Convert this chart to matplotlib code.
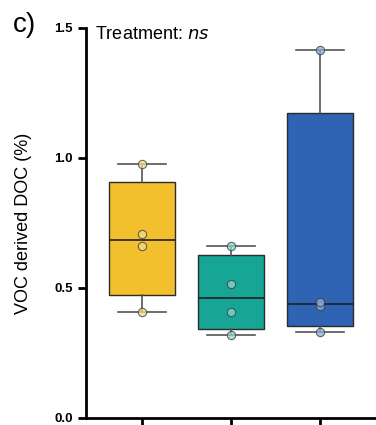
import numpy as np
import matplotlib.pyplot as plt

plt.rcParams['font.family'] = ['Liberation Sans', 'DejaVu Sans']

# VOC derived DOC (%) per replicate, three treatments
positions = [0, 1, 2]
doc_yellow = [0.408, 0.663, 0.708, 0.975]
doc_teal = [0.319, 0.409, 0.514, 0.663]
doc_blue = [0.330, 0.431, 0.447, 1.415]
box_colors = ['#F2C02C', '#17A595', '#2E64B3']
point_colors = ['#F5DC8A', '#8ED4CB', '#8FAEDB']
yticks = [0.0, 0.5, 1.0, 1.5]


def box_stats(vals):
    # quartiles as GraphPad computes them, whiskers min to max
    v = np.sort(np.asarray(vals))
    q1, med, q3 = np.percentile(v, [25, 50, 75], method='weibull')
    return dict(med=med, q1=q1, q3=q3, whislo=v.min(), whishi=v.max(), fliers=[])


data = [doc_yellow, doc_teal, doc_blue]
stats = [box_stats(d) for d in data]

fig = plt.figure(figsize=(3.76, 4.25), dpi=100)
ax = fig.add_axes([0.2287, 0.0165, 0.7713, 0.918])

bp = ax.bxp(stats, positions=positions, widths=0.75, capwidths=0.53,
            patch_artist=True, showfliers=False,
            boxprops=dict(edgecolor='#2b2b2b', linewidth=1.0),
            medianprops=dict(color='#1f1f1f', linewidth=1.2),
            whiskerprops=dict(color='#555555', linewidth=1.2),
            capprops=dict(color='#555555', linewidth=1.2))
for patch, c in zip(bp['boxes'], box_colors):
    patch.set_facecolor(c)

for x, d, pc in zip(positions, data, point_colors):
    ax.plot([x] * len(d), d, 'o', ms=6, mfc=pc, mec='#3a3a3a', mew=0.8,
            alpha=0.75, zorder=5)

ax.set_xlim(-0.63, 2.63)
ax.set_ylim(0, 1.5)
ax.set_yticks(yticks)
ax.set_yticklabels([f'{t:.1f}' for t in yticks], fontsize=9.5, fontweight='bold')
ax.set_xticks(positions)
ax.set_xticklabels(['', '', ''])
ax.tick_params(axis='both', width=2, length=6, direction='out')
for s in ['top', 'right']:
    ax.spines[s].set_visible(False)
for s in ['left', 'bottom']:
    ax.spines[s].set_linewidth(2)

ax.set_ylabel('VOC derived DOC (%)', fontsize=13, labelpad=16)
ax.text(0.03, 0.972, 'Treatment: $\\it{ns}$', transform=ax.transAxes,
        fontsize=13, va='baseline', ha='left')
fig.text(0.035, 0.925, 'c)', fontsize=20, va='baseline', ha='left')

fig.savefig('out.png', dpi=100)
